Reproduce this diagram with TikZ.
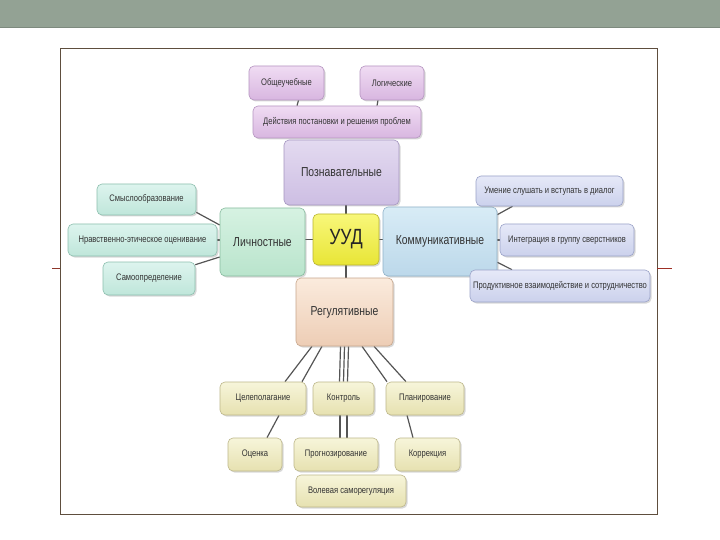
\documentclass[tikz,border=0pt]{standalone}
\usepackage{fontspec}
\usepackage{xcolor}
\usepackage{tikz}
\usetikzlibrary{shadows, backgrounds}
\setmainfont{Liberation Sans}
\newfontfamily\boxfont[FakeStretch=0.8]{Liberation Sans}
\definecolor{bannergreen}{HTML}{93A294}
\definecolor{framebrown}{HTML}{5E4E3E}
\definecolor{linkgray}{HTML}{555555}
\definecolor{purpletop}{HTML}{F0DCF3}
\definecolor{purplebot}{HTML}{D8B6E0}
\definecolor{purpleline}{HTML}{B594C0}
\definecolor{lilactop}{HTML}{E3DAF0}
\definecolor{lilacbot}{HTML}{CDBEE3}
\definecolor{lilacline}{HTML}{A596C0}
\definecolor{minttop}{HTML}{DDF4EE}
\definecolor{mintbot}{HTML}{BFE6DA}
\definecolor{mintline}{HTML}{8CBFAE}
\definecolor{greentop}{HTML}{D6F2E2}
\definecolor{greenbot}{HTML}{B9E4CC}
\definecolor{greenline}{HTML}{88BC9F}
\definecolor{yellowtop}{HTML}{F8F77A}
\definecolor{yellowbot}{HTML}{E8E536}
\definecolor{yellowline}{HTML}{B8B430}
\definecolor{skytop}{HTML}{D8ECF6}
\definecolor{skybot}{HTML}{BCD8EA}
\definecolor{skyline}{HTML}{8FB1C8}
\definecolor{periwtop}{HTML}{E6E9F8}
\definecolor{periwbot}{HTML}{CBD1EC}
\definecolor{periwline}{HTML}{9AA2C8}
\definecolor{peachtop}{HTML}{FBEBDD}
\definecolor{peachbot}{HTML}{EDCDB5}
\definecolor{peachline}{HTML}{C7A68C}
\definecolor{creamtop}{HTML}{F7F5DA}
\definecolor{creambot}{HTML}{E6E1B0}
\definecolor{creamline}{HTML}{BDB78A}

\begin{document}
\begin{tikzpicture}[x=1pt, y=-1pt,
    box/.style={rectangle, rounded corners=5pt, draw, line width=0.6pt, inner sep=0pt,
        align=center, text=black!80, font=\boxfont\fontsize{9.5}{10}\selectfont,
        drop shadow={shadow xshift=1.5pt, shadow yshift=-1.5pt, opacity=0.3}},
    bigbox/.style={box, font=\boxfont\fontsize{13}{14}\selectfont},
    tint/.style n args={3}{top color=#1, bottom color=#2, draw=#3},
    link/.style={draw=linkgray, line width=1.2pt}]
    \useasboundingbox (0,0) rectangle (720,540);
    \begin{scope}[on background layer]
        \fill[white] (0,0) rectangle (720,540);
        \fill[bannergreen] (0,0) rectangle (720,27);
        \draw[bannergreen!85!black, line width=0.8pt] (0,27.5) -- (720,27.5);
        \draw[framebrown, line width=0.8pt] (60,48) rectangle (657,514);
        \draw[framebrown!70!red, line width=1pt] (52,268) -- (60,268);
        \draw[framebrown!60!red, line width=1pt] (657,268) -- (672,268);
    \end{scope}

    % cognitive branch
    \node[box, tint={purpletop}{purplebot}{purpleline}, minimum width=75, minimum height=34] (obsh) at (286.5,83) {Общеучебные};
    \node[box, tint={purpletop}{purplebot}{purpleline}, minimum width=64, minimum height=34] (logic) at (392,83) {Логические};
    \node[box, tint={purpletop}{purplebot}{purpleline}, minimum width=168, minimum height=32] (deist) at (337,122) {Действия постановки и решения проблем};
    \node[bigbox, tint={lilactop}{lilacbot}{lilacline}, minimum width=115, minimum height=65] (pozn) at (341.5,172.5) {Познавательные};

    % centre
    \node[box, tint={yellowtop}{yellowbot}{yellowline}, minimum width=66, minimum height=51,
        font=\boxfont\fontsize{22}{24}\selectfont, text=black!85] (uud) at (346,239.5) {УУД};

    % personal branch
    \node[bigbox, tint={greentop}{greenbot}{greenline}, minimum width=85, minimum height=68] (lichn) at (262.5,242) {Личностные};
    \node[box, tint={minttop}{mintbot}{mintline}, minimum width=99, minimum height=31] (smysl) at (146.5,199.5) {Смыслообразование};
    \node[box, tint={minttop}{mintbot}{mintline}, minimum width=149, minimum height=32] (nravst) at (142.5,240) {Нравственно-этическое оценивание};
    \node[box, tint={minttop}{mintbot}{mintline}, minimum width=92, minimum height=33] (samoopr) at (149,278.5) {Самоопределение};

    % communicative branch
    \node[bigbox, tint={skytop}{skybot}{skyline}, minimum width=114, minimum height=69] (komm) at (440,241.5) {Коммуникативные};
    \node[box, tint={periwtop}{periwbot}{periwline}, minimum width=147, minimum height=30] (umen) at (549.5,191) {Умение слушать и вступать в диалог};
    \node[box, tint={periwtop}{periwbot}{periwline}, minimum width=134, minimum height=32] (integr) at (567,240) {Интеграция в группу сверстников};
    \node[box, tint={periwtop}{periwbot}{periwline}, minimum width=180, minimum height=32] (produkt) at (560,286) {Продуктивное взаимодействие и сотрудничество};

    % regulative branch
    \node[bigbox, tint={peachtop}{peachbot}{peachline}, minimum width=97, minimum height=68] (regul) at (344.5,312) {Регулятивные};
    \node[box, tint={creamtop}{creambot}{creamline}, minimum width=86, minimum height=33] (celep) at (263,398.5) {Целеполагание};
    \node[box, tint={creamtop}{creambot}{creamline}, minimum width=61, minimum height=33] (kontr) at (343.5,398.5) {Контроль};
    \node[box, tint={creamtop}{creambot}{creamline}, minimum width=78, minimum height=33] (plan) at (425,398.5) {Планирование};
    \node[box, tint={creamtop}{creambot}{creamline}, minimum width=54, minimum height=33] (ocenka) at (255,454.5) {Оценка};
    \node[box, tint={creamtop}{creambot}{creamline}, minimum width=84, minimum height=33] (prognoz) at (336,454.5) {Прогнозирование};
    \node[box, tint={creamtop}{creambot}{creamline}, minimum width=65, minimum height=33] (korr) at (427.5,454.5) {Коррекция};
    \node[box, tint={creamtop}{creambot}{creamline}, minimum width=110, minimum height=32] (volev) at (351,491) {Волевая саморегуляция};

    \begin{scope}[on background layer]
        \draw[link] ([xshift=12pt]obsh.south) -- ([xshift=-40pt]deist.north);
        \draw[link] ([xshift=-14pt]logic.south) -- ([xshift=40pt]deist.north);
        \draw[link] (uud.north) -- (uud.north |- pozn.south);
        \draw[link] (uud.west) -- (uud.west -| lichn.east);
        \draw[link] (uud.east) -- (uud.east -| komm.west);
        \draw[link] (uud.south) -- (uud.south |- regul.north);
        \draw[link] ([yshift=3pt]smysl.south east) -- ([yshift=17pt]lichn.west);
        \draw[link] (nravst.east) -- (nravst.east -| lichn.west);
        \draw[link] ([yshift=-3pt]samoopr.north east) -- ([yshift=-15pt]lichn.west);
        \draw[link] ([yshift=-8pt]komm.north east) -- ([xshift=-37pt]umen.south);
        \draw[link] (integr.west) -- (integr.west -| komm.east);
        \draw[link] ([yshift=14pt]komm.south east) -- ([xshift=-48pt]produkt.north);
        \draw[link] ([xshift=-32.5pt]regul.south) -- ([xshift=22pt]celep.north);
        \draw[link] ([xshift=-22.5pt]regul.south) -- ([xshift=39pt]celep.north);
        \foreach \dx in {-4,0,4}
            \draw[link] ([xshift=\dx pt]regul.south) -- ([xshift=\dx pt]kontr.north);
        \draw[link] ([xshift=17.5pt]regul.south) -- ([xshift=-38pt]plan.north);
        \draw[link] ([xshift=29.5pt]regul.south) -- ([xshift=-19pt]plan.north);
        \draw[link] ([xshift=16pt]celep.south) -- ([xshift=12pt]ocenka.north);
        \foreach \dx in {-3.5,3.5}
            \draw[link] ([xshift=\dx pt]kontr.south) -- ([xshift=\dx pt]kontr.south |- prognoz.north);
        \draw[link] ([xshift=-18pt]plan.south) -- ([xshift=-14.5pt]korr.north);
    \end{scope}
\end{tikzpicture}
\end{document}
